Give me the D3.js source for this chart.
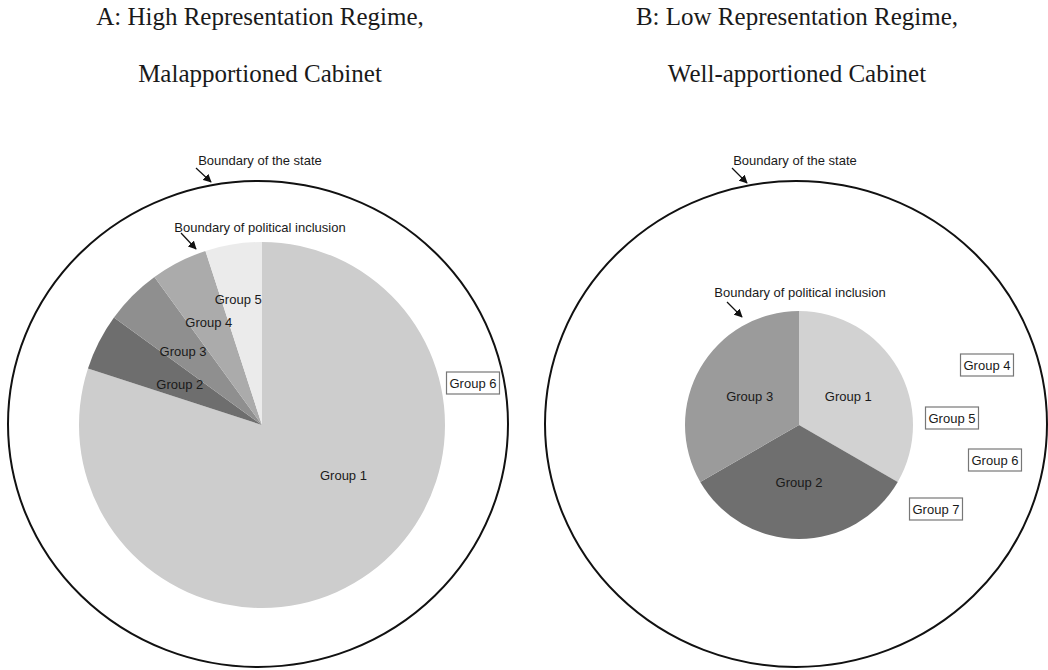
<!DOCTYPE html>
<html>
<head>
<meta charset="utf-8">
<script src="https://cdn.jsdelivr.net/npm/d3@7"></script>
<style>
  html, body { margin: 0; padding: 0; background: #fff; }
  svg { display: block; }
</style>
</head>
<body>
<svg id="chart" width="1048" height="670"></svg>
<script>
// ---- Data ----
const titlesA = ["A: High Representation Regime,", "Malapportioned Cabinet"];
const titlesB = ["B: Low Representation Regime,", "Well-apportioned Cabinet"];
const groupsA = ["Group 1", "Group 2", "Group 3", "Group 4", "Group 5"];
const valuesA = [80, 5, 5, 5, 5];
const excludedA = ["Group 6"];
const groupsB = ["Group 1", "Group 2", "Group 3"];
const valuesB = [33.3, 33.3, 33.3];
const excludedB = ["Group 4", "Group 5", "Group 6", "Group 7"];
const stateLabel = "Boundary of the state";
const inclusionLabel = "Boundary of political inclusion";

// ---- Layout / style ----
const svg = d3.select("#chart");
const defs = svg.append("defs");
defs.append("marker")
  .attr("id", "arrow").attr("viewBox", "0 0 10 10")
  .attr("refX", 9).attr("refY", 5)
  .attr("markerWidth", 7).attr("markerHeight", 7)
  .attr("orient", "auto")
  .append("path").attr("d", "M0,0 L10,5 L0,10 z").attr("fill", "#111");

const panels = [
  {
    titles: titlesA, groups: groupsA, values: valuesA, excluded: excludedA,
    titleX: 260, state: {cx: 258, cy: 424, rx: 250, ry: 243},
    pie: {cx: 262, cy: 425, r: 183},
    colors: ["#cdcdcd", "#6e6e6e", "#8f8f8f", "#ababab", "#ebebeb"],
    labelPos: [{a: 122, f: 0.525}, {a: -64, f: 0.50}, {a: -47, f: 0.59}, {a: -27.5, f: 0.63}, {a: -10.7, f: 0.70}],
    stateText: {x: 260, y: 160, ax1: 196, ay1: 168, ax2: 211, ay2: 182},
    inclText: {x: 260, y: 227, ax1: 181, ay1: 233, ax2: 196, ay2: 249},
    boxes: [{x: 473, y: 383}]
  },
  {
    titles: titlesB, groups: groupsB, values: valuesB, excluded: excludedB,
    titleX: 797, state: {cx: 796, cy: 424, rx: 251, ry: 243},
    pie: {cx: 799, cy: 425, r: 114},
    colors: ["#d2d2d2", "#6f6f6f", "#9b9b9b"],
    labelPos: [{a: 60, f: 0.5}, {a: 180, f: 0.5}, {a: -60, f: 0.5}],
    stateText: {x: 795, y: 160, ax1: 732, ay1: 168, ax2: 747, ay2: 183},
    inclText: {x: 800, y: 292, ax1: 727, ay1: 302, ax2: 742, ay2: 317},
    boxes: [{x: 987, y: 365}, {x: 952, y: 418}, {x: 995, y: 460}, {x: 936, y: 509}]
  }
];

panels.forEach(p => {
  const g = svg.append("g");
  // Titles
  g.selectAll("text.title").data(p.titles).join("text")
    .attr("class", "title")
    .attr("x", p.titleX).attr("y", (d, i) => 25 + i * 57)
    .attr("text-anchor", "middle")
    .attr("font-family", "'Liberation Serif', 'Times New Roman', serif")
    .attr("font-size", 25).attr("fill", "#1a1a1a")
    .text(d => d);

  // Boundary of the state
  g.append("ellipse")
    .attr("cx", p.state.cx).attr("cy", p.state.cy)
    .attr("rx", p.state.rx).attr("ry", p.state.ry)
    .attr("fill", "none").attr("stroke", "#111").attr("stroke-width", 2);

  // Pie
  const pie = d3.pie().sort(null).value(d => d)(p.values);
  const arc = d3.arc().innerRadius(0).outerRadius(p.pie.r);
  const pg = g.append("g").attr("transform", `translate(${p.pie.cx},${p.pie.cy})`);
  pg.selectAll("path").data(pie).join("path")
    .attr("d", arc)
    .attr("fill", (d, i) => p.colors[i]);

  pg.selectAll("text").data(pie).join("text")
    .attr("x", (d, i) => Math.sin(p.labelPos[i].a * Math.PI / 180) * p.labelPos[i].f * p.pie.r)
    .attr("y", (d, i) => -Math.cos(p.labelPos[i].a * Math.PI / 180) * p.labelPos[i].f * p.pie.r)
    .attr("dy", "0.35em")
    .attr("text-anchor", "middle")
    .attr("font-family", "'Liberation Sans', Arial, sans-serif")
    .attr("font-size", 13).attr("fill", "#1a1a1a")
    .text((d, i) => p.groups[i]);

  // Annotations
  [[p.stateText, stateLabel], [p.inclText, inclusionLabel]].forEach(([t, label]) => {
    g.append("text")
      .attr("x", t.x).attr("y", t.y).attr("dy", "0.35em")
      .attr("text-anchor", "middle")
      .attr("font-family", "'Liberation Sans', Arial, sans-serif")
      .attr("font-size", 13).attr("fill", "#1a1a1a")
      .text(label);
    g.append("line")
      .attr("x1", t.ax1).attr("y1", t.ay1).attr("x2", t.ax2).attr("y2", t.ay2)
      .attr("stroke", "#111").attr("stroke-width", 1.2)
      .attr("marker-end", "url(#arrow)");
  });

  // Excluded groups in boxes
  p.excluded.forEach((name, i) => {
    const b = p.boxes[i];
    const t = g.append("text")
      .attr("x", b.x).attr("y", b.y).attr("dy", "0.35em")
      .attr("text-anchor", "middle")
      .attr("font-family", "'Liberation Sans', Arial, sans-serif")
      .attr("font-size", 13).attr("fill", "#1a1a1a")
      .text(name);
    const bb = t.node().getBBox();
    g.insert("rect", () => t.node())
      .attr("x", bb.x - 3).attr("y", b.y - 11)
      .attr("width", bb.width + 6).attr("height", 22)
      .attr("fill", "#fff").attr("stroke", "#777").attr("stroke-width", 1.2);
  });
});
</script>
</body>
</html>
